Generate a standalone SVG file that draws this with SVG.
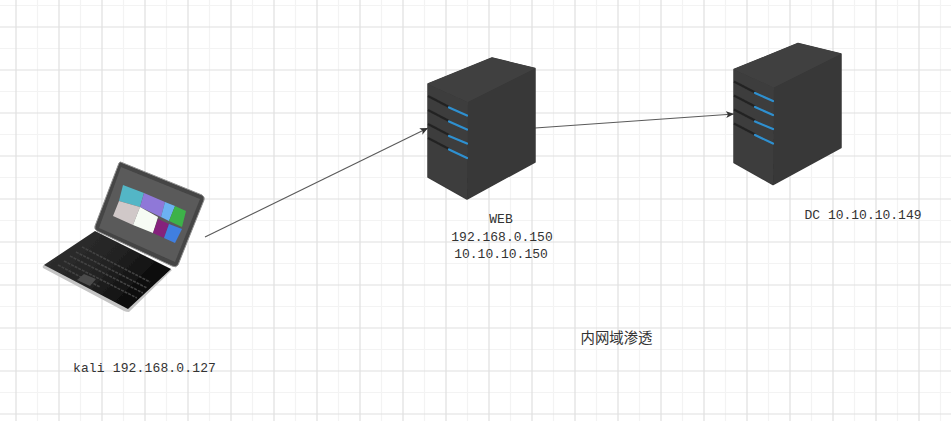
<svg xmlns="http://www.w3.org/2000/svg" xmlns:xlink="http://www.w3.org/1999/xlink" width="951" height="421" viewBox="0 0 951 421">
<style>
.major{stroke:#e0e0e0;stroke-width:1.2}
.minor{stroke:#f3f3f3;stroke-width:1.2}
.conn{stroke:#5a5a5a;stroke-width:1.1;fill:none;marker-end:url(#arrow)}
.lbl{font-family:"Liberation Mono","Noto Sans CJK SC",monospace;font-size:13px;fill:#333;text-anchor:middle}
.cjk{font-family:"Noto Sans CJK SC",sans-serif;font-size:14.4px;fill:#333;text-anchor:middle}
.led{stroke:#2f90d0;stroke-width:2.2;stroke-linecap:round;fill:none}
.slot{stroke:#242424;stroke-width:2.2;fill:none}
.key{stroke:#424242;stroke-width:1.6;stroke-dasharray:3 1;fill:none}
.soft{filter:url(#soft)}
</style>
<defs>
<filter id="soft" x="-5%" y="-5%" width="110%" height="110%"><feGaussianBlur stdDeviation="0.5"/></filter>
<marker id="arrow" markerWidth="9" markerHeight="8" refX="8" refY="4" orient="auto" markerUnits="userSpaceOnUse">
<path d="M0,0.5 L8,4 L0,7.5 L2,4 Z" fill="#333"/>
</marker>
<linearGradient id="deck" x1="0" y1="0" x2="1" y2="0.6">
<stop offset="0" stop-color="#333"/><stop offset="0.55" stop-color="#232323"/><stop offset="1" stop-color="#050505"/>
</linearGradient>
<g id="server" class="soft">
<path d="M428,84 L492,58 L535,68.500 L535,162 L467,199 L428,177 Z" fill="#3a3a3a" stroke="#3a3a3a" stroke-width="1.5" stroke-linejoin="round"/>
<path d="M428,84 L492,58 L535,68.500 L468,102 Z" fill="#414141" stroke="#414141" stroke-linejoin="round"/>
<path d="M468,102 L535,68.500 L535,162 L467,199 Z" fill="#373737"/>
<path d="M428,84 L468,102 L467,199 L428,177 Z" fill="#3c3c3c"/>
<path class="slot" d="M428,96 L449,107"/><path class="slot" d="M428,110 L449,121"/>
<path class="slot" d="M428,124 L449,135"/><path class="slot" d="M428,138 L449,149"/>
<path class="led" d="M449,107.500 L467,115.500"/><path class="led" d="M449,121.500 L467,129.500"/>
<path class="led" d="M449,136 L467,143.500"/><path class="led" d="M449,149.500 L467,158"/>
</g>
</defs>
<rect width="951" height="421" fill="#fff"/>
<g id="grid">
<path class="minor" d="M37.500,0V421M80.500,0V421M123.500,0V421M166.500,0V421M209.500,0V421M252.500,0V421M295.500,0V421M338.500,0V421M381.500,0V421M424.500,0V421M467.500,0V421M510.500,0V421M553.500,0V421M596.500,0V421M639.500,0V421M682.500,0V421M725.500,0V421M768.500,0V421M811.500,0V421M854.500,0V421M897.500,0V421M940.500,0V421"/>
<path class="minor" d="M0,5.500H951M0,48.500H951M0,91.500H951M0,134.500H951M0,177.500H951M0,220.500H951M0,263.500H951M0,306.500H951M0,349.500H951M0,392.500H951"/>
<path class="major" d="M16,0V421M59,0V421M102,0V421M145,0V421M188,0V421M231,0V421M274,0V421M317,0V421M360,0V421M403,0V421M446,0V421M489,0V421M532,0V421M575,0V421M618,0V421M661,0V421M704,0V421M747,0V421M790,0V421M833,0V421M876,0V421M919,0V421"/>
<path class="major" d="M0,27H951M0,70H951M0,113H951M0,156H951M0,199H951M0,242H951M0,285H951M0,328H951M0,371H951M0,414H951"/>
</g>
<g id="connectors">
<path class="conn" d="M205,237 L428,128"/>
<path class="conn" d="M535,128 L734,114"/>
</g>
<g id="laptop">
<g class="soft">
<path d="M119,163 Q120,161 123,163 L202,195 Q205,197 204,200 L178,265 Q176,268 172,266 L97,231 Q94,229 95,226 Z" fill="#444" stroke="#909090" stroke-width="1"/>
<path d="M121,167 L200,199 L175,262 L99,228 Z" fill="#5a5a5a"/>
<path d="M123,185 L144,193 L140,207 L119,201 Z" fill="#52b6c6"/>
<path d="M144,193 L165,202 L161,217 L140,207 Z" fill="#8f78d8"/>
<path d="M165,202 L175,206 L169,221 L161,217 Z" fill="#6cb2f2"/>
<path d="M175,206 L186,211 L182,227 L169,221 Z" fill="#3cb24a"/>
<path d="M119,201 L140,207 L133,225 L113,216 Z" fill="#d0c8c8"/>
<path d="M140,207 L158,217 L153,233 L133,225 Z" fill="#f6fbf4"/>
<path d="M158,219 L169,224 L164,238 L153,233 Z" fill="#85207c"/>
<path d="M169,224 L182,229 L175,243 L164,238 Z" fill="#3f7fe0"/>
<path d="M95,232 L172,270 L129,312 Q126,312 124,311 L43,268 Q42,266 44,265 Z" fill="#c4c4c4"/>
<path d="M95,231 L171,269 L128,309 L44,265 Z" fill="url(#deck)"/>
<g class="key">
<path d="M82,247 L150,282"/><path d="M76,252 L147,288"/><path d="M70,256 L143,293"/><path d="M64,261 L137,298"/><path d="M58,265 L100,287"/>
</g>
<path d="M84,274 L96,279 L90,286 L77,280 Z" fill="#4b4b4b"/>
</g>
</g>
<g id="web">
<use href="#server" xlink:href="#server"/>
<text class="lbl" x="501" y="223">WEB</text>
<text class="lbl" x="502" y="241">192.168.0.150</text>
<text class="lbl" x="501" y="258">10.10.10.150</text>
</g>
<g id="dc">
<use href="#server" xlink:href="#server" x="306" y="-14.500"/>
<text class="lbl" x="863" y="219">DC 10.10.10.149</text>
</g>
<text id="kali" class="lbl" x="144.500" y="372" style="letter-spacing:.15px">kali 192.168.0.127</text>
<text id="title" class="cjk" x="616.500" y="343">内网域渗透</text>
</svg>
